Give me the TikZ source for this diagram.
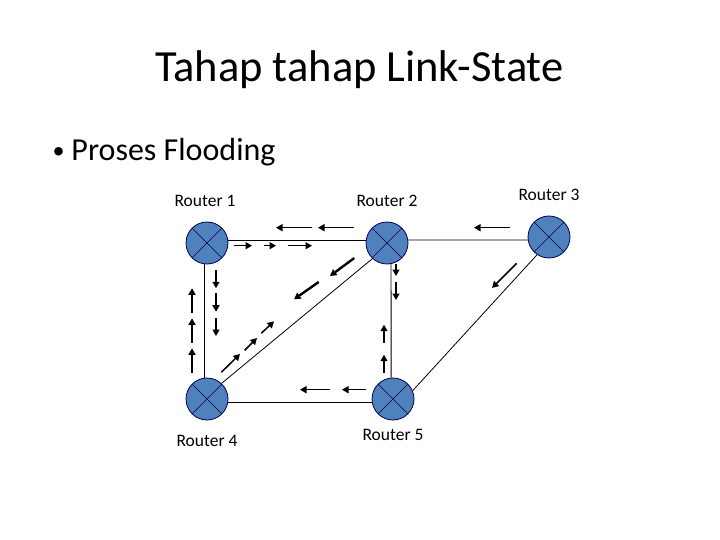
\documentclass[tikz,border=0pt]{standalone}
\usepackage{fontspec}
\setmainfont{Carlito}
\usetikzlibrary{arrows.meta}

\def\myrad{21pt}

\tikzset{
  router/.style={circle,draw=black!70!blue,fill=routerblue,line width=0.8pt,
    minimum size=2*\myrad,inner sep=0pt,
    path picture={
      \draw[line width=0.6pt] (path picture bounding box.north west) -- (path picture bounding box.south east);
      \draw[line width=0.6pt] (path picture bounding box.north east) -- (path picture bounding box.south west);
    }},
  link/.style={line width=0.8pt},
  flow/.style={-{Triangle[length=6.5pt,width=7pt]},line width=1.5pt},
  heavy/.style={flow,line width=2.4pt},
  lbl/.style={font=\fontsize{17.5}{20}\selectfont}
}
\definecolor{routerblue}{HTML}{4F81BD}

\begin{document}
\begin{tikzpicture}[x=1pt,y=-1pt]
\useasboundingbox (0,0) rectangle (720,540);

% the title and the bullet
\node[font=\fontsize{44.5}{50}\selectfont] (title) at (359.5,70) {Tahap tahap Link-State};
\node[font=\fontsize{32}{38}\selectfont,anchor=west] (bullet) at (49,152) {\raisebox{1.5pt}{\fontsize{24}{28}\selectfont •}\hspace{7pt}Proses Flooding};

% the routers
\node[router] (r1) at (207,243) {};
\node[router] (r2) at (387,243) {};
\node[router] (r3) at (549,237) {};
\node[router] (r4) at (207,399) {};
\node[router] (r5) at (393,399) {};

% the labels
\node[lbl] (l1) at (205,200.5) {Router 1};
\node[lbl] (l2) at (387,200.5) {Router 2};
\node[lbl] (l3) at (549,194.5) {Router 3};
\node[lbl] (l4) at (207,440.5) {Router 4};
\node[lbl] (l5) at (393,434.5) {Router 5};

% the links
\draw[link] (r1.8) -- (r2.172);
\draw[link] (r2.8) -- (r3.188);
\draw[link] (r1.262) -- (r4.98);
\draw[link] (r4.-8) -- (r5.188);
\draw[link] (r2.-79) -- (r5.95);
\draw[link] (r4.47) -- (r2.227);
\draw[link] (r5.23) -- (r3.236);

% the flooding arrows
\foreach \xa/\ya/\xb/\yb in {
  234/245.7/252/245.7, 264/245.7/276/245.7, 288/245.7/312/245.7,
  354/227.7/318/227.7, 312/227.7/276/227.7, 510/227.7/474/227.7,
  516.7/263.3/492/288,
  216/270/216/288.3, 216/293.3/216/311.7, 216/318.3/216/336,
  192/372.7/192/348.3, 192/342.7/192/318.3, 192/312.7/192/288.3,
  221.3/372.3/240/354, 244.7/350.3/257/338, 261.3/333.3/274/321.3,
  366/389.7/342/389.7, 330/389.7/300/389.7,
  384/372.7/384/354.7, 384/342.7/384/324.7,
  396/264/396/276, 396/281.7/396/300}
  \draw[flow] (\xa,\ya) -- (\xb,\yb);
% the two heavier ones below router 2
\draw[heavy] (354.3,258) -- (330,276);
\draw[heavy] (318.7,282) -- (294,299.3);
\end{tikzpicture}
\end{document}
